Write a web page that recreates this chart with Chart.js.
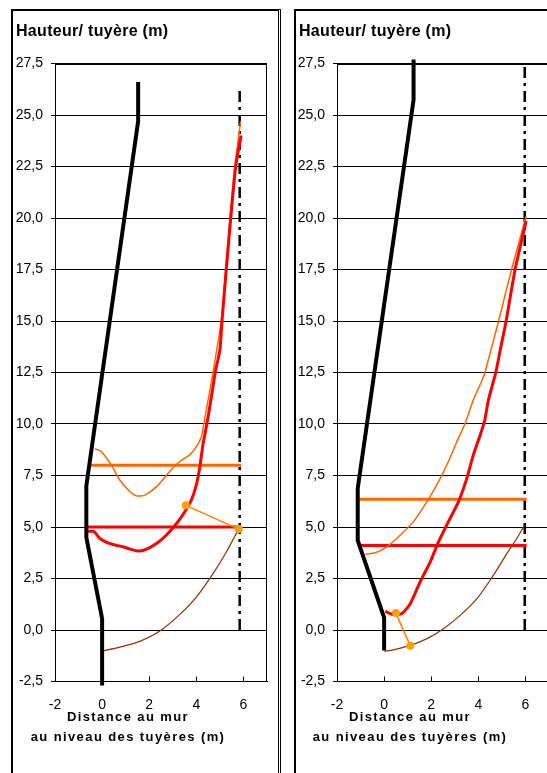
<!DOCTYPE html>
<html lang="fr">
<head>
<meta charset="utf-8">
<title>Profils - hauteur / tuyère</title>
<script src="https://cdn.jsdelivr.net/npm/chart.js@4.4.1/dist/chart.umd.min.js"></script>
<style>
  html, body { margin: 0; padding: 0; background: #fff; }
  body { width: 547px; height: 773px; overflow: hidden; position: relative;
         font-family: "Liberation Sans", Arial, sans-serif; color: #000; }
  .cadre { position: absolute; top: 9px; height: 800px; border-left: 2px solid #000; border-top: 2px solid #000; }
  #cadreA { left: 11px; width: 265px; border-right: 3px double #000; }
  #cadreB { left: 294px; width: 300px; }
  canvas { position: absolute; top: 10px; }
  #chartA { left: 12px; }
  #chartB { left: 294px; }
  .titreY { position: absolute; top: 23px; font-size: 16px; line-height: 16px; font-weight: bold;
            letter-spacing: 0.3px; white-space: nowrap; }
  .titreX { position: absolute; top: 707px; width: 300px; text-align: center; font-size: 13px;
            line-height: 20px; font-weight: bold; letter-spacing: 1.4px; white-space: nowrap; }
</style>
</head>
<body>
<div class="cadre" id="cadreA"></div>
<div class="cadre" id="cadreB"></div>
<canvas id="chartA" width="266" height="763"></canvas>
<canvas id="chartB" width="266" height="763"></canvas>
<div class="titreY" style="left:16px">Hauteur/ tuyère (m)</div>
<div class="titreY" style="left:299px">Hauteur/ tuyère (m)</div>
<div class="titreX" style="left:-22px">Distance au mur<br>au niveau des tuyères (m)</div>
<div class="titreX" style="left:260px">Distance au mur<br>au niveau des tuyères (m)</div>
<script>
// graduations
const xTicks = [-2, 0, 2, 4, 6];
const yTicks = [-2.5, 0, 2.5, 5, 7.5, 10, 12.5, 15, 17.5, 20, 22.5, 25, 27.5];

// graphe de gauche : [distance, hauteur]
const profilA = [[0, -2.7], [0, 0.55], [-0.67, 4.5], [-0.67, 7.0], [1.53, 24.7], [1.53, 26.6]];
const axeA = [[5.84, 0], [5.84, 26.3]];
const rougeA = [[-0.62, 4.8], [-0.35, 4.78], [-0.1, 4.45], [0.2, 4.25], [0.47, 4.15], [0.89, 4.04],
  [1.18, 3.93], [1.53, 3.83], [1.89, 3.93], [2.31, 4.2], [2.73, 4.61], [3.16, 5.17], [3.51, 5.74],
  [3.79, 6.31], [4.0, 7.04], [4.14, 7.85], [4.28, 8.99], [4.43, 9.9], [4.57, 10.84], [4.72, 11.9],
  [4.8, 12.5], [5.0, 13.6], [5.09, 15.0], [5.27, 17.5], [5.46, 20.0], [5.67, 22.5], [5.9, 24.0]];
const orangeA = [[-0.31, 8.8], [-0.05, 8.68], [0.19, 8.34], [0.47, 7.86], [0.75, 7.28], [1.11, 6.8],
  [1.46, 6.51], [1.81, 6.55], [2.31, 6.96], [2.87, 7.69], [3.3, 8.18], [3.72, 8.5], [4.0, 8.9],
  [4.22, 9.39], [4.3, 9.9], [4.5, 11.17], [4.71, 12.5], [4.85, 13.5], [5.06, 15.0], [5.25, 17.5],
  [5.43, 20.0], [5.63, 22.5], [5.8, 24.0], [5.88, 24.7]];
const niveauOrangeA = [[-0.6, 8.0], [5.9, 8.0]];
const niveauRougeA = [[-0.68, 5.0], [5.78, 5.0]];
const liaisonA = [[3.55, 6.05], [5.8, 4.9]];
const brunA = [[0, -1.02], [0.75, -0.83], [1.6, -0.55], [2.45, -0.05], [3.3, 0.76], [4.0, 1.6],
  [4.71, 2.74], [5.28, 3.8], [5.7, 4.69], [5.8, 4.85]];

// graphe de droite
const profilB = [[0, -1.0], [0, 0.6], [-1.12, 4.35], [-1.12, 6.88], [1.25, 25.73], [1.25, 27.7]];
const axeB = [[5.97, 0], [5.97, 27.5]];
const rougeB = [[0.05, 0.9], [0.4, 0.75], [0.76, 0.8], [1.11, 1.28], [1.53, 2.34], [1.96, 3.31],
  [2.31, 4.28], [2.73, 5.26], [3.16, 6.23], [3.51, 7.36], [3.79, 8.5], [4.08, 9.47], [4.26, 10.12],
  [4.43, 11.17], [4.74, 12.5], [4.95, 13.7], [5.18, 15.0], [5.56, 17.5], [6.03, 19.85]];
const orangeB = [[-0.8, 3.68], [-0.37, 3.75], [0.12, 4.04], [0.69, 4.61], [1.25, 5.26], [1.82, 6.23],
  [2.31, 7.2], [2.73, 8.18], [3.09, 9.15], [3.43, 10.0], [3.79, 11.17], [4.15, 12.1], [4.28, 12.5],
  [4.86, 15.0], [5.41, 17.5], [6.03, 20.1]];
const niveauOrangeB = [[-1.12, 6.35], [6.05, 6.35]];
const niveauRougeB = [[-1.12, 4.1], [6.05, 4.1]];
const liaisonB = [[0.5, 0.82], [1.11, -0.76]];
const brunB = [[0.01, -1.04], [0.4, -0.96], [1.11, -0.75], [1.82, -0.42], [2.52, 0.06], [3.23, 0.71],
  [3.94, 1.52], [4.64, 2.66], [5.21, 3.71], [5.63, 4.44], [5.95, 5.06]];

Chart.defaults.font.family = '"Liberation Sans", Arial, sans-serif';
Chart.defaults.color = '#000';

const pts = arr => arr.map(p => ({ x: p[0], y: p[1] }));

function ligne(data, color, width, extra) {
  return Object.assign({
    data: pts(data), borderColor: color, backgroundColor: color, borderWidth: width,
    pointRadius: 0, tension: 0, fill: false, showLine: true
  }, extra || {});
}

// cadre de la zone de tracé + petites graduations intérieures en bas
const cadre = {
  id: 'cadre',
  beforeDatasetsDraw(chart, args, opts) {
    const { ctx, chartArea: a, scales: { x } } = chart;
    const l = Math.round(a.left) + 0.5, r = Math.round(a.right) - 0.5;
    const t = Math.round(a.top) + 0.5, b = Math.round(a.bottom) - 0.5;
    ctx.save();
    ctx.strokeStyle = '#000';
    ctx.lineWidth = 1;
    ctx.beginPath();
    if (opts.droite) { ctx.moveTo(r, t); ctx.lineTo(r, b); }
    ctx.moveTo(l, t); ctx.lineTo(l, b);
    ctx.moveTo(l, t); ctx.lineTo(a.right, t);
    xTicks.slice(1).forEach(v => {
      const px = Math.round(x.getPixelForValue(v)) + 0.5;
      ctx.moveTo(px, a.bottom);
      ctx.lineTo(px, a.bottom - 5);
    });
    ctx.stroke();
    ctx.restore();
  }
};

function makeChart(id, s, droite) {
  return new Chart(document.getElementById(id), {
    type: 'scatter',
    data: {
      datasets: [
        ligne(s.liaison, '#FF8000', 1.5, { pointRadius: 4, pointBackgroundColor: '#FFA000', pointBorderColor: '#FFA000', pointBorderWidth: 0 }),
        ligne(s.profil, '#000000', 4, { clip: false }),
        ligne(s.rouge, '#FF0000', 3, { tension: 0.2 }),
        ligne(s.orange, '#FF6600', 1.5, { tension: 0.2 }),
        ligne(s.niveauOrange, '#FF6600', 3),
        ligne(s.niveauRouge, '#FF0000', 3),
        ligne(s.brun, '#993300', 1.25, { tension: 0.3 }),
        ligne(s.axe, '#000000', 2.5, { borderDash: [11, 5, 3, 5] })
      ]
    },
    options: {
      responsive: false,
      animation: false,
      layout: { padding: { top: 53.5, left: 0, right: 11, bottom: 0 } },
      plugins: { legend: { display: false }, tooltip: { enabled: false }, cadre: { droite: droite } },
      scales: {
        x: {
          type: 'linear', min: -2, max: 7,
          afterBuildTicks(sc) { sc.ticks = xTicks.map(v => ({ value: v })); },
          afterFit(sc) { sc.height = 91.5; },
          ticks: { font: { size: 14 }, padding: 15, maxRotation: 0, autoSkip: false },
          grid: { display: false, drawTicks: false, tickLength: 0 },
          border: { color: '#000', width: 1 }
        },
        y: {
          type: 'linear', min: -2.5, max: 27.5,
          afterBuildTicks(sc) { sc.ticks = yTicks.map(v => ({ value: v })); },
          afterFit(sc) { sc.width = 43; },
          ticks: { font: { size: 14 }, padding: 8, callback: v => v.toFixed(1).replace('.', ',') },
          grid: { color: '#000', lineWidth: 1, tickLength: 4 },
          border: { color: '#000', width: 1 }
        }
      }
    },
    plugins: [cadre]
  });
}

makeChart('chartA', { profil: profilA, axe: axeA, rouge: rougeA, orange: orangeA,
  niveauOrange: niveauOrangeA, niveauRouge: niveauRougeA, liaison: liaisonA, brun: brunA }, true);
makeChart('chartB', { profil: profilB, axe: axeB, rouge: rougeB, orange: orangeB,
  niveauOrange: niveauOrangeB, niveauRouge: niveauRougeB, liaison: liaisonB, brun: brunB }, false);
</script>
</body>
</html>
